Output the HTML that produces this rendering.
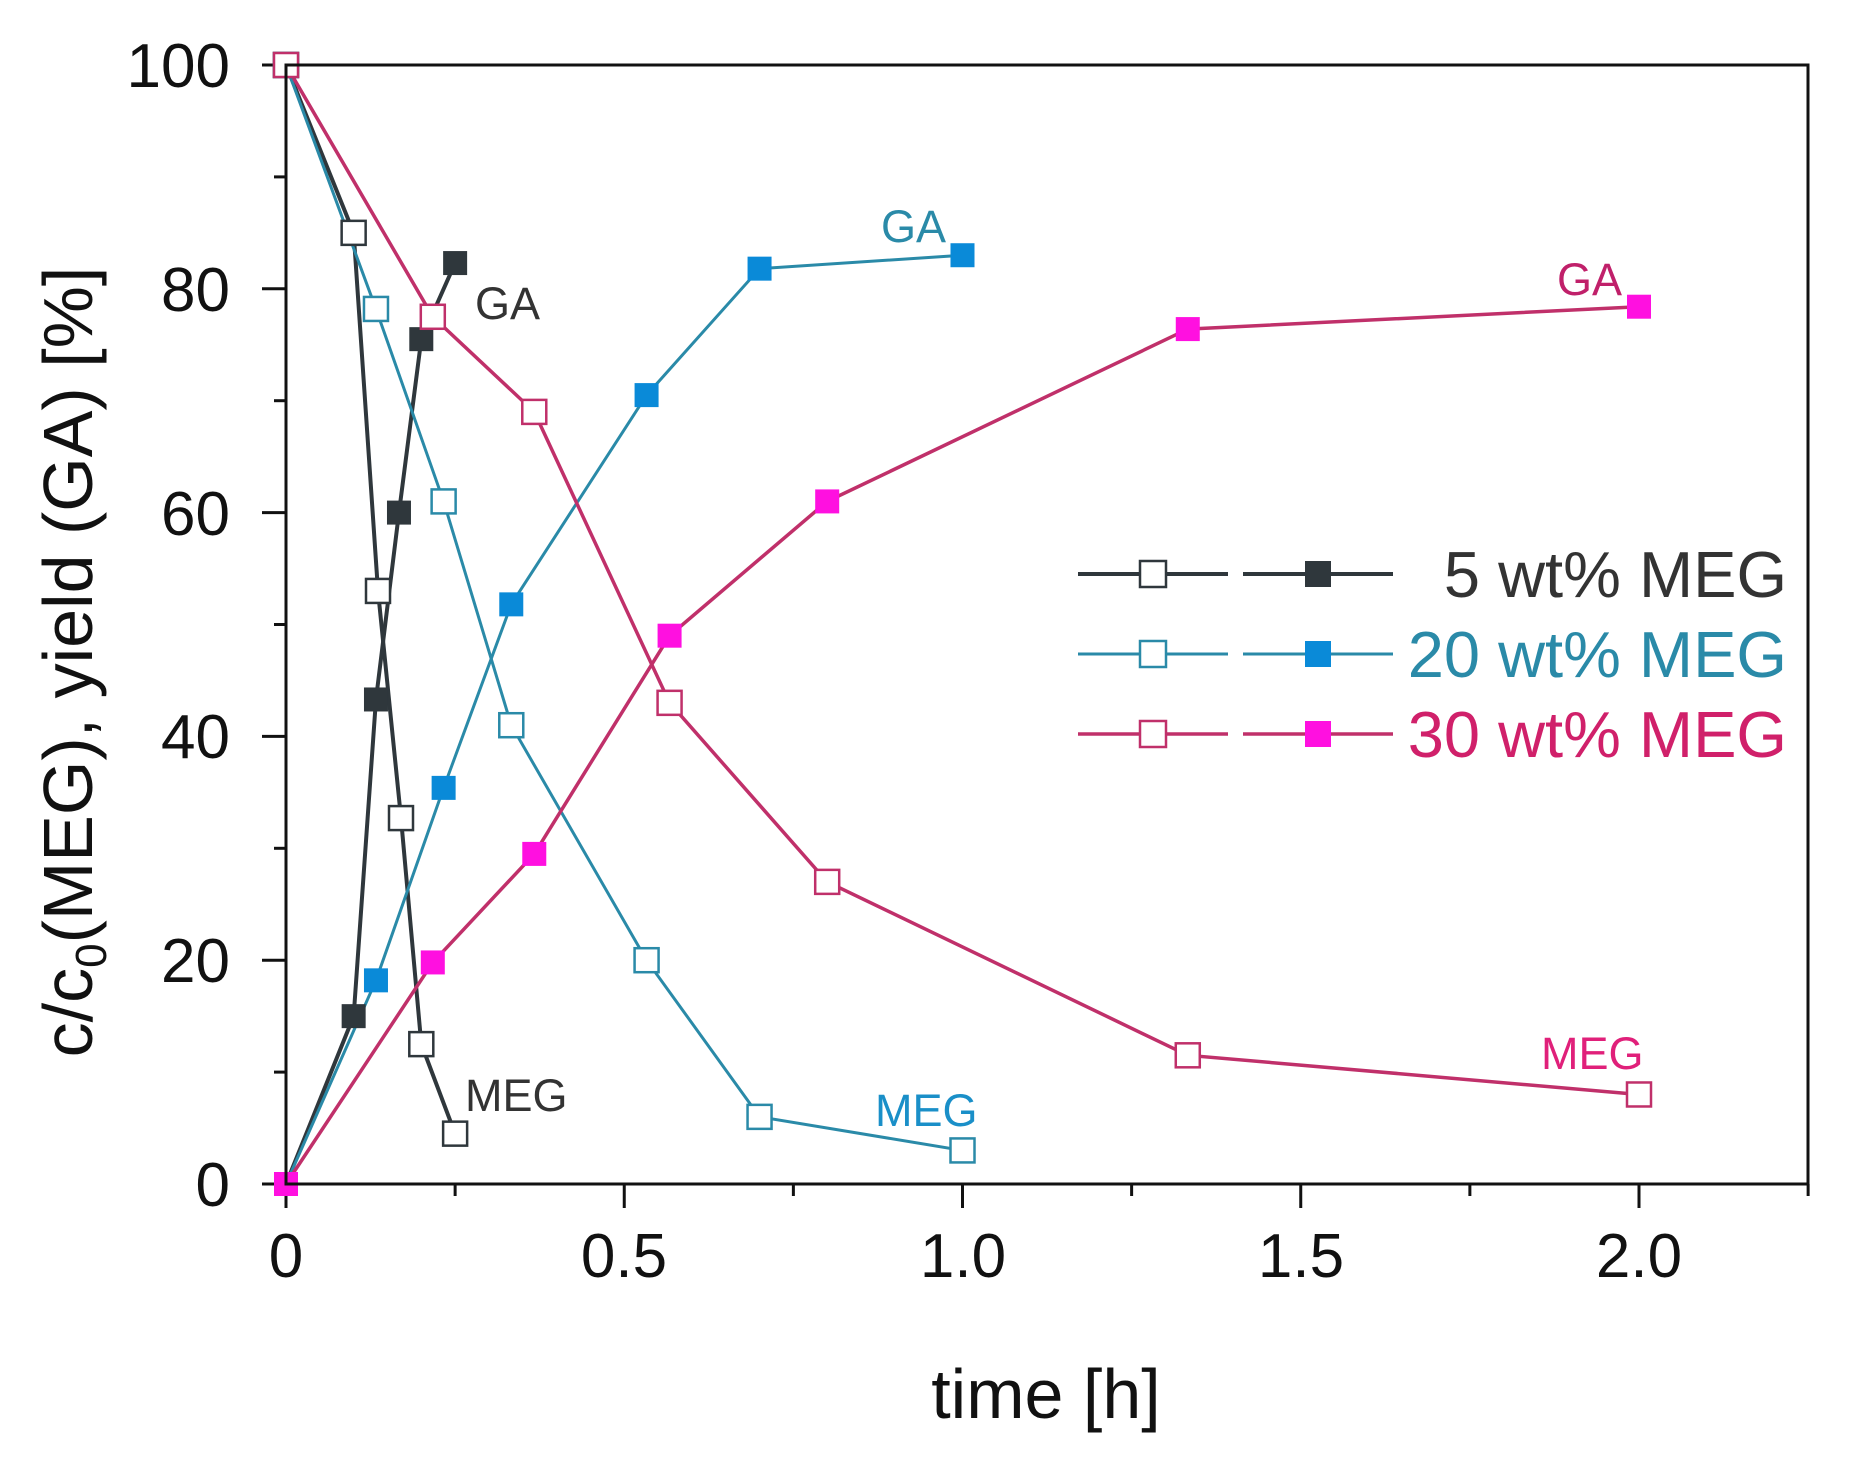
<!DOCTYPE html>
<html><head><meta charset="utf-8"><style>
html,body{margin:0;padding:0;background:#fff;}
svg{display:block;font-family:"Liberation Sans",Arial,sans-serif;}
</style></head><body>
<svg id="s" width="1852" height="1460" viewBox="0 0 1852 1460" xmlns="http://www.w3.org/2000/svg">
<rect width="1852" height="1460" fill="#fff"/>
<g id="plot"></g>
<rect x="286" y="65" width="1522" height="1119" fill="none" stroke="#111" stroke-width="3"/>
<g font-size="62" fill="#111" text-anchor="end">
<text x="230" y="1206">0</text>
<text x="230" y="982">20</text>
<text x="230" y="758">40</text>
<text x="230" y="535">60</text>
<text x="230" y="311">80</text>
<text x="230" y="87">100</text>
</g>
<g font-size="62" fill="#111" text-anchor="middle">
<text x="286" y="1277">0</text>
<text x="624" y="1277">0.5</text>
<text x="963" y="1277">1.0</text>
<text x="1301" y="1277">1.5</text>
<text x="1639" y="1277">2.0</text>
</g>
<text x="1046" y="1418" font-size="70" fill="#111" text-anchor="middle">time [h]</text>
<text transform="translate(92,662) rotate(-90)" font-size="70" fill="#111" text-anchor="middle">c/c<tspan font-size="44" dy="14">0</tspan><tspan dy="-14">(MEG), yield (GA) [%]</tspan></text>
<g font-size="45">
<text x="475" y="319" fill="#333">GA</text>
<text x="465" y="1111" fill="#333">MEG</text>
<text x="881" y="242" fill="#2a8aa8">GA</text>
<text x="875" y="1126" fill="#1a8fc8">MEG</text>
<text x="1557" y="295" fill="#c0206a">GA</text>
<text x="1541" y="1069" fill="#e0207a">MEG</text>
</g>
<g font-size="65" text-anchor="end">
<text x="1787" y="597" fill="#333">5 wt% MEG</text>
<text x="1787" y="677" fill="#2a8aa8">20 wt% MEG</text>
<text x="1787" y="757" fill="#d0206a">30 wt% MEG</text>
</g>
</svg>
<script>
var X=function(t){return 286+676.5*t}, Y=function(v){return 1184-11.19*v};
var g=document.getElementById('plot'), h='';
for(var v=0;v<=100;v+=10){var L=v%20==0?24:12;h+='<line x1="'+(286-L)+'" x2="286" y1="'+Y(v)+'" y2="'+Y(v)+'" stroke="#111" stroke-width="3"/>';}
for(var i=0;i<=9;i++){var t=i*0.25;var L=(i%2==0)?24:12;h+='<line y1="1184" y2="'+(1184+L)+'" x1="'+X(t)+'" x2="'+X(t)+'" stroke="#111" stroke-width="3"/>';}
var S=[
 {c:"#2f373c",f:"#2f373c",w:4,o:[[0,100],[0.1,85],[0.136,53],[0.17,32.7],[0.2,12.5],[0.25,4.5]],s:[[0,0],[0.1,15],[0.133,43.3],[0.167,60],[0.2,75.5],[0.25,82.3]]},
 {c:"#2a8aa8",f:"#0a8ad8",w:3,o:[[0,100],[0.133,78.2],[0.233,61],[0.333,41],[0.533,20],[0.7,6],[1.0,3]],s:[[0,0],[0.133,18.2],[0.233,35.4],[0.333,51.8],[0.533,70.5],[0.7,81.8],[1.0,83]]},
 {c:"#c0306a",f:"#ff10e0",w:3.5,o:[[0,100],[0.217,77.5],[0.367,69],[0.567,43],[0.8,27],[1.333,11.5],[2.0,8]],s:[[0,0],[0.217,19.8],[0.367,29.5],[0.567,49],[0.8,61],[1.333,76.4],[2.0,78.4]]}
];
var m=24;
S.forEach(function(s){
 ['o','s'].forEach(function(k){
  var p=s[k].map(function(d){return X(d[0])+','+Y(d[1])}).join(' ');
  h+='<polyline points="'+p+'" fill="none" stroke="'+s.c+'" stroke-width="'+s.w+'"/>';
 });
});
S.forEach(function(s){
 s.o.forEach(function(d){h+='<rect x="'+(X(d[0])-m/2)+'" y="'+(Y(d[1])-m/2)+'" width="'+m+'" height="'+m+'" fill="#fff" stroke="'+s.c+'" stroke-width="2.5"/>';});
 s.s.forEach(function(d){h+='<rect x="'+(X(d[0])-m/2)+'" y="'+(Y(d[1])-m/2)+'" width="'+m+'" height="'+m+'" fill="'+s.f+'"/>';});
});
[[574,S[0]],[654,S[1]],[734,S[2]]].forEach(function(r){
 var y=r[0],s=r[1];
 h+='<line x1="1078" x2="1228" y1="'+y+'" y2="'+y+'" stroke="'+s.c+'" stroke-width="'+s.w+'"/>';
 h+='<line x1="1243" x2="1393" y1="'+y+'" y2="'+y+'" stroke="'+s.c+'" stroke-width="'+s.w+'"/>';
 h+='<rect x="1140" y="'+(y-13)+'" width="26" height="26" fill="#fff" stroke="'+s.c+'" stroke-width="2.5"/>';
 h+='<rect x="1305" y="'+(y-13)+'" width="26" height="26" fill="'+s.f+'"/>';
});
g.innerHTML=h;
</script>
</body></html>
